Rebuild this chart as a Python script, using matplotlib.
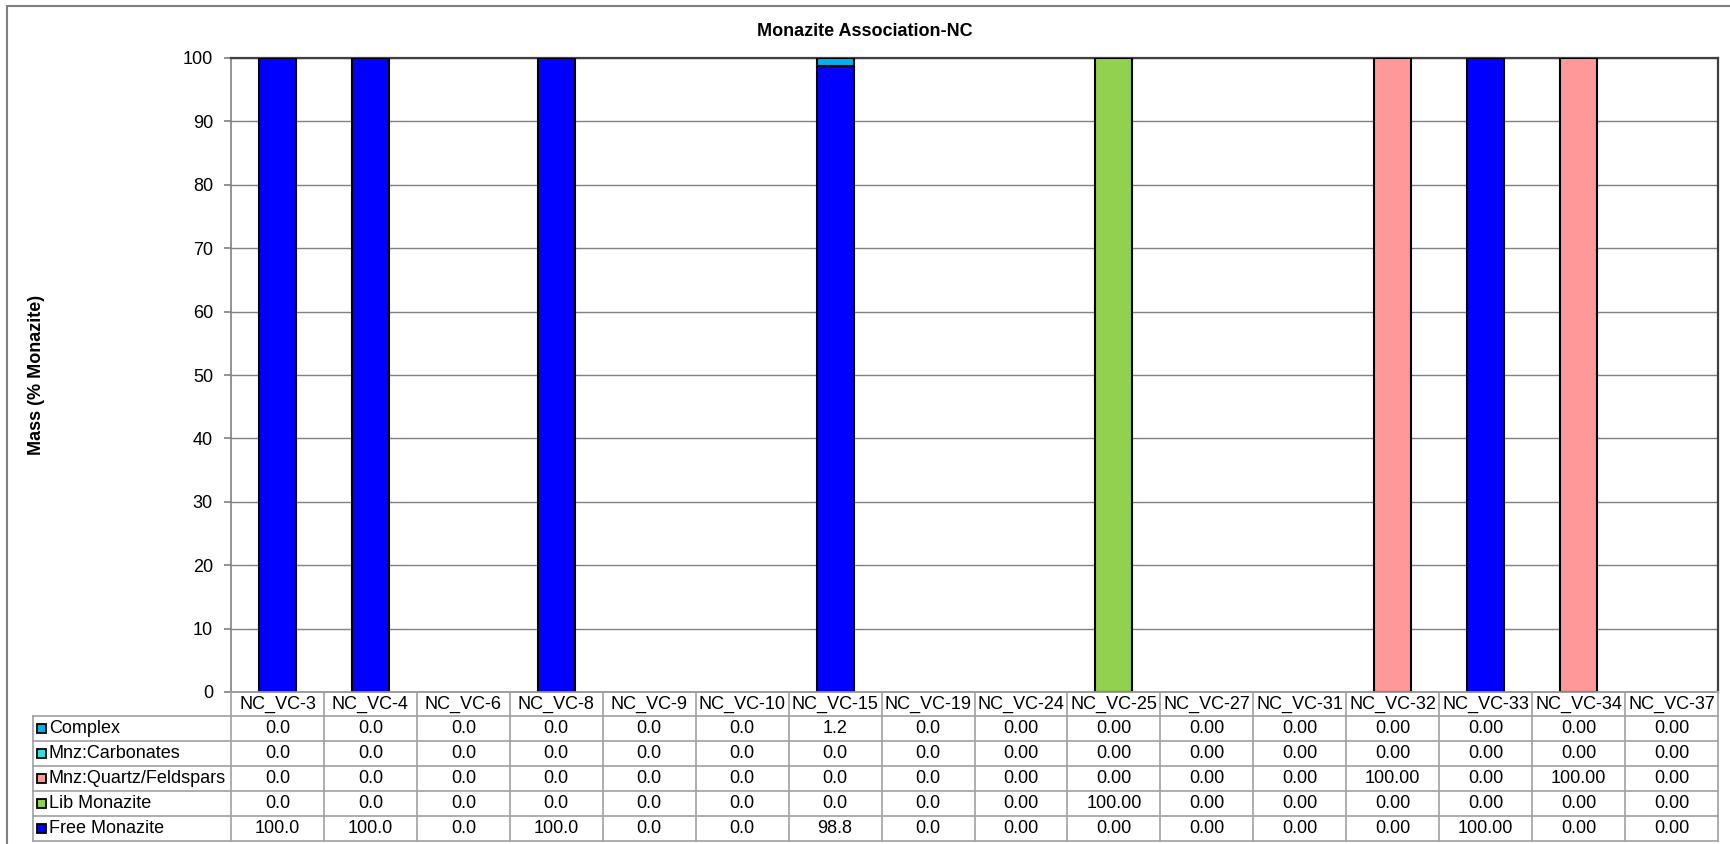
import matplotlib.pyplot as plt
import matplotlib.transforms as mtransforms
from matplotlib.patches import Rectangle
from matplotlib.lines import Line2D
import numpy as np

plt.rcParams['font.family'] = ['Liberation Sans', 'DejaVu Sans']

samples = ["NC_VC-3", "NC_VC-4", "NC_VC-6", "NC_VC-8", "NC_VC-9", "NC_VC-10",
           "NC_VC-15", "NC_VC-19", "NC_VC-24", "NC_VC-25", "NC_VC-27", "NC_VC-31",
           "NC_VC-32", "NC_VC-33", "NC_VC-34", "NC_VC-37"]

# decimals shown in the data table for each sample
decimals = [1, 1, 1, 1, 1, 1, 1, 1, 2, 2, 2, 2, 2, 2, 2, 2]

free_monazite = [100.0, 100.0, 0.0, 100.0, 0.0, 0.0, 98.8, 0.0, 0.0, 0.0, 0.0, 0.0, 0.0, 100.0, 0.0, 0.0]
lib_monazite = [0.0, 0.0, 0.0, 0.0, 0.0, 0.0, 0.0, 0.0, 0.0, 100.0, 0.0, 0.0, 0.0, 0.0, 0.0, 0.0]
mnz_quartz = [0.0, 0.0, 0.0, 0.0, 0.0, 0.0, 0.0, 0.0, 0.0, 0.0, 0.0, 0.0, 100.0, 0.0, 100.0, 0.0]
mnz_carbonates = [0.0] * 16
complex_ = [0.0, 0.0, 0.0, 0.0, 0.0, 0.0, 1.2, 0.0, 0.0, 0.0, 0.0, 0.0, 0.0, 0.0, 0.0, 0.0]

# stacking order, bottom to top
series = [
    ("Free Monazite", free_monazite, "#0000FF"),
    ("Lib Monazite", lib_monazite, "#92D050"),
    ("Mnz:Quartz/Feldspars", mnz_quartz, "#FF9999"),
    ("Mnz:Carbonates", mnz_carbonates, "#33DDDD"),
    ("Complex", complex_, "#00B0F0"),
]

W, H = 1730, 844
FS = 13
fig = plt.figure(figsize=(W / 100, H / 100), dpi=100)

def fx(px):
    return px / W

def fy(py):
    return 1 - py / H

ax_left, ax_right, ax_top, ax_bottom = 231, 1718, 58, 692
ax = fig.add_axes([fx(ax_left), fy(ax_bottom), fx(ax_right - ax_left), (ax_bottom - ax_top) / H])

x = np.arange(len(samples))
bottom = np.zeros(len(samples))
for name, vals, color in series:
    vals = np.array(vals)
    nz = vals > 0
    if nz.any():
        ax.bar(x[nz], vals[nz], width=0.4, bottom=bottom[nz], color=color,
               edgecolor="black", linewidth=1.5, zorder=3)
    bottom += vals

ax.set_xlim(-0.5, len(samples) - 0.5)
ax.set_ylim(0, 100)
ax.set_yticks(np.arange(0, 101, 10))
ax.set_xticks([])
ax.yaxis.grid(True, color="#808080", linewidth=1)
ax.set_axisbelow(True)
ax.tick_params(axis="y", direction="out", length=5, color="#808080", width=1.2,
               labelsize=FS, pad=8)
for side in ["left", "bottom"]:
    ax.spines[side].set_color("#808080")
    ax.spines[side].set_linewidth(1.2)
for side in ["top", "right"]:
    ax.spines[side].set_color("#404040")
    ax.spines[side].set_linewidth(1.6)

fig.text(fx(37), 0.5 * (fy(ax_top) + fy(ax_bottom)), "Mass (% Monazite)", rotation=90,
         ha="center", va="center", fontsize=FS, fontweight="bold")
fig.text(0.5, fy(31), "Monazite Association-NC", ha="center", va="center",
         fontsize=FS, fontweight="bold")

# data table under the plot
trans = mtransforms.blended_transform_factory(ax.transData, fig.transFigure)
grid_c = "#A0A0A0"
header_top, header_bot = 692, 716
row_h = 25
legend_left = 33
n_rows = len(series)
table_bot = header_bot + n_rows * row_h

# vertical lines between sample columns
for i in range(len(samples) + 1):
    xb = i - 0.5
    fig.add_artist(Line2D([xb, xb], [fy(header_top), fy(table_bot)], transform=trans,
                          color=grid_c, linewidth=1.2))
# horizontal lines
fig.add_artist(Line2D([-0.5, len(samples) - 0.5], [fy(header_top)] * 2, transform=trans,
                      color=grid_c, linewidth=1.2))
for r in range(n_rows + 1):
    yy = fy(header_bot + r * row_h)
    fig.add_artist(Line2D([fx(legend_left), fx(ax_right)], [yy, yy], color=grid_c, linewidth=1.2))
fig.add_artist(Line2D([fx(legend_left)] * 2, [fy(header_bot), fy(table_bot)], color=grid_c,
                      linewidth=1.2))

for i, s in enumerate(samples):
    fig.text(i, fy((header_top + header_bot) / 2), s, transform=trans, ha="center",
             va="center", fontsize=FS)

for r, (name, vals, color) in enumerate(reversed(series)):
    yc = fy(header_bot + r * row_h + row_h / 2)
    fig.add_artist(Rectangle((fx(legend_left + 4), yc - 4.5 / H), 9 / W, 9 / H,
                             facecolor=color, edgecolor="black", linewidth=1.3,
                             transform=fig.transFigure))
    fig.text(fx(legend_left + 16), yc, name, ha="left", va="center", fontsize=FS)
    for i, v in enumerate(vals):
        fig.text(i, yc, f"{v:.{decimals[i]}f}", transform=trans, ha="center",
                 va="center", fontsize=FS)

# outer chart frame
fig.add_artist(Rectangle((fx(7), fy(H + 10)), 1.2, fy(6) - fy(H + 10), fill=False,
                         edgecolor="#808080", linewidth=1.5, transform=fig.transFigure))

fig.savefig("out.png", dpi=100)
